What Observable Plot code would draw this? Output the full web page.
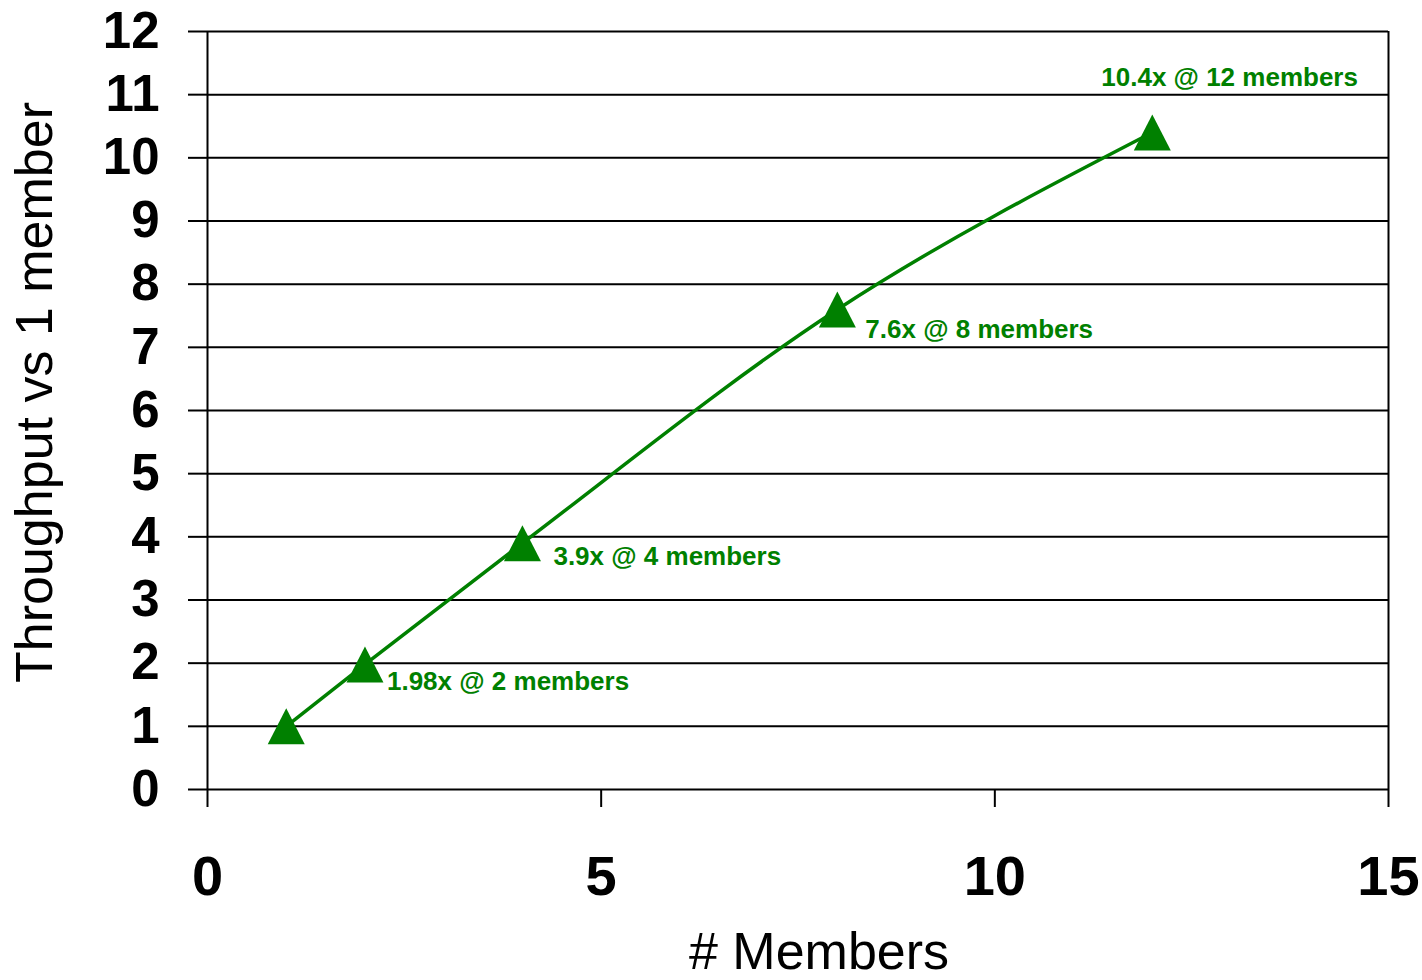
<!DOCTYPE html>
<html><head><meta charset="utf-8">
<script src="https://cdn.jsdelivr.net/npm/d3@7"></script>
<script src="https://cdn.jsdelivr.net/npm/@observablehq/plot@0.6"></script>
<style>
body{margin:0;background:#fff}
svg{font-family:"Liberation Sans",Arial,sans-serif}
g[aria-label="y-axis tick label"] text, g[aria-label="x-axis tick label"] text{font-weight:bold}
</style>
</head><body><div id="chart"></div>
<script>
const members = [1, 2, 4, 8, 12];
const throughput = [1, 1.98, 3.9, 7.6, 10.4];
const pointLabels = [null, "1.98x @ 2 members", "3.9x @ 4 members", "7.6x @ 8 members", "10.4x @ 12 members"];
const xTicks = [0, 5, 10, 15];
const yTicks = [0, 1, 2, 3, 4, 5, 6, 7, 8, 9, 10, 11, 12];
const xTitle = "# Members";
const yTitle = "Throughput vs 1 member";

const green = "#008000";
const data = members.map((m, i) => ({members: m, throughput: throughput[i], label: pointLabels[i]}));
// pixel offsets of each data label relative to its point (layout only)
const labelOffsets = {2: [22, 17], 4: [31, 14], 8: [28, 20], 12: [-51, -55]};

const triangle = {
  draw(ctx) {
    ctx.moveTo(0, -18);
    ctx.lineTo(18.5, 18);
    ctx.lineTo(-18.5, 18);
    ctx.closePath();
  }
};

const labelMarks = data.filter(d => d.label).map(d =>
  Plot.text([d], {
    x: "members", y: "throughput", text: "label",
    dx: labelOffsets[d.members][0], dy: labelOffsets[d.members][1],
    textAnchor: "start", lineAnchor: "middle",
    fill: green, fontSize: 26, fontWeight: "bold"
  })
);

const chart = Plot.plot({
  width: 1422,
  height: 980,
  marginLeft: 207,
  marginRight: 34,
  marginTop: 31,
  marginBottom: 191,
  style: {background: "#fff", overflow: "visible"},
  x: {domain: [0, 15], label: null},
  y: {domain: [0, 12], label: null},
  marks: [
    Plot.gridY(yTicks, {stroke: "black", strokeOpacity: 1, strokeWidth: 2}),
    Plot.ruleX(xTicks.filter(t => t === 0 || t === 15), {y1: 0, y2: 12, stroke: "black", strokeWidth: 2}),
    Plot.axisY({ticks: yTicks, tickSize: 19, tickPadding: 29, fontSize: 51, fontWeight: "bold", stroke: "black", strokeWidth: 2, fill: "black", label: null}),
    Plot.axisX({ticks: xTicks, tickSize: 18, tickPadding: 48, fontSize: 56, fontWeight: "bold", stroke: "black", strokeWidth: 2, fill: "black", label: null}),
    Plot.line(data, {x: "members", y: "throughput", stroke: green, strokeWidth: 3.5, curve: "monotone-x"}),
    Plot.dot(data, {x: "members", y: "throughput", symbol: triangle, fill: green, stroke: "none"}),
    ...labelMarks,
    Plot.text([xTitle], {text: d => d, frameAnchor: "bottom", dx: 21, dy: 163, textAnchor: "middle", lineAnchor: "middle", fontSize: 52, fill: "black"}),
    Plot.text([yTitle], {text: d => d, frameAnchor: "left", rotate: -90, dx: -172, dy: -18, textAnchor: "middle", lineAnchor: "middle", fontSize: 52, fill: "black"})
  ]
});
document.getElementById("chart").appendChild(chart);
</script>
</body></html>
